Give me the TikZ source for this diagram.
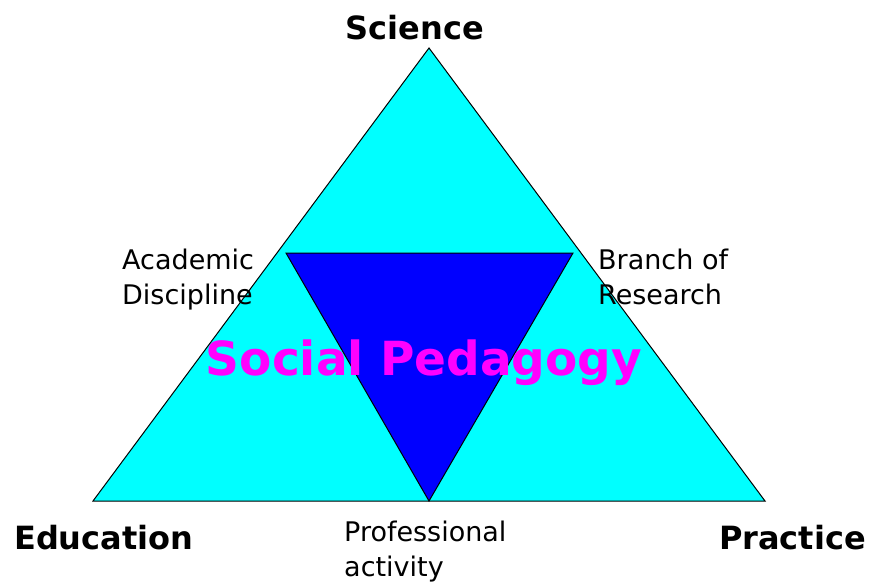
\documentclass[tikz,border=0pt]{standalone}
\usepackage{fontspec}
\setmainfont{DejaVu Sans}
\definecolor{skycyan}{RGB}{0,255,255}
\definecolor{deepblue}{RGB}{0,0,255}
\definecolor{pinkmag}{RGB}{255,0,255}

\begin{document}
\begin{tikzpicture}[x = 1pt, y = -1pt,
		bigword/.style = {font = \fontsize{32}{38}\selectfont\bfseries, inner sep = 0pt},
		smallword/.style = {font = \fontsize{27}{35}\selectfont, inner sep = 0pt, align = left}]
		\useasboundingbox (0,0) rectangle (869,583);

		\coordinate (Top) at (429,48);
		\coordinate (Left) at (93,501);
		\coordinate (Right) at (765,501);
		\draw [line width = 1pt, fill = skycyan] (Top) -- (Left) -- (Right) -- cycle;

		\coordinate (ITL) at (286,253);
		\coordinate (ITR) at (573,253);
		\coordinate (IB) at (429,501);
		\draw [line width = 1pt, fill = deepblue] (ITL) -- (ITR) -- (IB) -- cycle;

		\node (SP) at (424,375) [anchor = base, inner sep = 0pt, text = pinkmag,
			font = \fontsize{47}{55}\selectfont\bfseries] {Social Pedagogy};

		\node (Sci) at (415,40) [bigword, anchor = base] {Science};
		\node (Edu) at (14,549) [bigword, anchor = base west] {Education};
		\node (Prac) at (866,549) [bigword, anchor = base east] {Practice};

		% multi-line nodes: base is on the last line
		\node (AD) at (122,304) [smallword, anchor = base west] {Academic\\Discipline};
		\node (BR) at (598,304) [smallword, anchor = base west] {Branch of\\Research};
		\node (PA) at (344,576) [smallword, anchor = base west] {Professional\\activity};
\end{tikzpicture}
\end{document}
